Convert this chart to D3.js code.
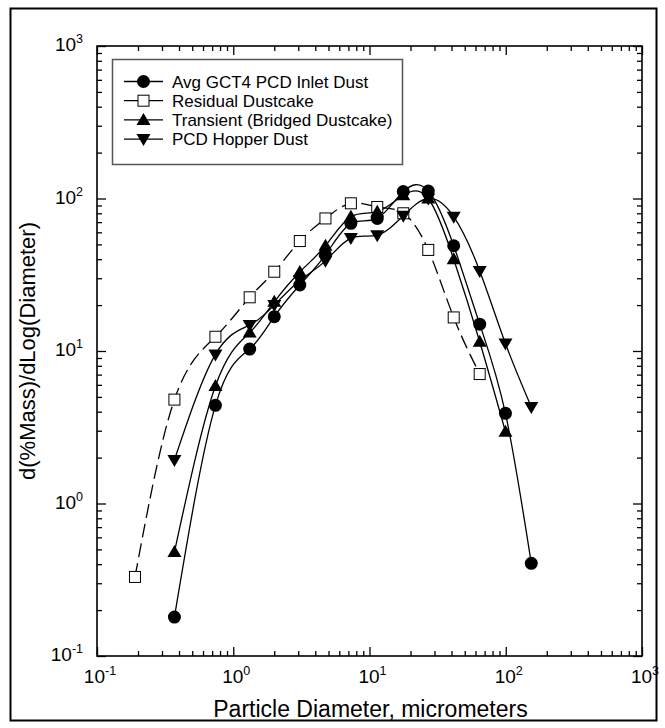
<!DOCTYPE html>
<html>
<head>
<meta charset="utf-8">
<script src="https://cdn.jsdelivr.net/npm/d3@7"></script>
<style>
  body { margin: 0; background: #fff; }
  text { font-family: "Liberation Sans", Arial, Helvetica, sans-serif; fill: #000; }
</style>
</head>
<body>
<svg id="chart" width="665" height="728"></svg>
<script>
// Particle diameters (micrometers) of the size bins
const diameters = [0.37, 0.74, 1.32, 2.0, 3.08, 4.75, 7.3, 11.4, 17.7, 27, 41.5, 64.4, 99.5, 154];
const residualDiameters = [0.19, 0.37, 0.74, 1.32, 2.0, 3.08, 4.75, 7.3, 11.4, 17.7, 27, 41.5, 64.4];

// d(%Mass)/dLog(Diameter) for each dust sample
const inletDust    = [0.18, 4.4, 10.3, 16.8, 27.1, 42.7, 68.7, 74, 111, 112, 49, 15.0, 3.9, 0.405];
const residualCake = [0.33, 4.8, 12.4, 22.5, 33.1, 52.6, 74, 93, 88, 80, 46, 16.6, 7.06];
const transient    = [0.48, 5.9, 13.2, 21, 33, 49, 76, 82, 105, 100, 40, 11.5, 2.96];
const hopperDust   = [1.93, 9.5, 14.8, 20, 29, 39, 55, 57.5, 77, 100, 76, 33.5, 11.2, 4.3];

const seriesNames = ["Avg GCT4 PCD Inlet Dust", "Residual Dustcake", "Transient (Bridged Dustcake)", "PCD Hopper Dust"];

// Axis decades (exponents of ten)
const xExponents = [-1, 0, 1, 2, 3];
const yExponents = [-1, 0, 1, 2, 3];

const series = [
  { name: seriesNames[0], xs: diameters, ys: inletDust, marker: "circle", dash: null },
  { name: seriesNames[1], xs: residualDiameters, ys: residualCake, marker: "square", dash: "14,6" },
  { name: seriesNames[2], xs: diameters.slice(0, transient.length), ys: transient, marker: "up", dash: null },
  { name: seriesNames[3], xs: diameters, ys: hopperDust, marker: "down", dash: null }
];

const svg = d3.select("#chart");
const W = 665, H = 728;
const plot = { left: 97, right: 642, top: 46, bottom: 656 };

const x = d3.scaleLog().domain([0.1, 1000]).range([plot.left, plot.right]);
const y = d3.scaleLog().domain([0.1, 1000]).range([plot.bottom, plot.top]);

// Outer border
svg.append("rect")
  .attr("x", 10.5).attr("y", 8.5)
  .attr("width", W - 19).attr("height", H - 16)
  .attr("fill", "none").attr("stroke", "#000").attr("stroke-width", 2);

// Major / minor tick values
const majors = xExponents.map(e => Math.pow(10, e));
const minors = [];
for (let e = -1; e < 3; e++) for (let k = 2; k <= 9; k++) minors.push(k * Math.pow(10, e));

function ticks(axisFn, scale, values, len, transform) {
  const g = svg.append("g").attr("transform", transform)
    .call(axisFn(scale).tickValues(values).tickSize(len).tickFormat(""));
  g.select(".domain").remove();
  g.selectAll(".tick line").attr("stroke", "#000").attr("stroke-width", 1.3);
  return g;
}
const MAJ = 9, MIN = 5;
ticks(d3.axisBottom, x, majors, -MAJ, `translate(0,${plot.bottom})`);
ticks(d3.axisBottom, x, minors, -MIN, `translate(0,${plot.bottom})`);
ticks(d3.axisTop, x, majors, -MAJ, `translate(0,${plot.top})`);
ticks(d3.axisTop, x, minors, -MIN, `translate(0,${plot.top})`);
ticks(d3.axisLeft, y, majors, -MAJ, `translate(${plot.left},0)`);
ticks(d3.axisLeft, y, minors, -MIN, `translate(${plot.left},0)`);
ticks(d3.axisRight, y, majors, -MAJ, `translate(${plot.right},0)`);
ticks(d3.axisRight, y, minors, -MIN, `translate(${plot.right},0)`);

// Plot box
svg.append("rect")
  .attr("x", plot.left).attr("y", plot.top)
  .attr("width", plot.right - plot.left).attr("height", plot.bottom - plot.top)
  .attr("fill", "none").attr("stroke", "#000").attr("stroke-width", 1.6);

// Power-of-ten labels
function powerLabel(px, py, exp, anchor) {
  const t = svg.append("text").attr("x", px).attr("y", py)
    .attr("text-anchor", anchor).style("font-size", "19px");
  t.append("tspan").text("10");
  t.append("tspan").attr("dy", -8).style("font-size", "12.5px").text(String(exp));
  return t;
}
xExponents.forEach(e => powerLabel(x(Math.pow(10, e)) + 3, plot.bottom + 27, e, "middle"));
yExponents.forEach(e => powerLabel(plot.left - 14, y(Math.pow(10, e)) + 5, e, "end"));

// Axis titles
svg.append("text")
  .attr("x", (plot.left + plot.right) / 2 + 1).attr("y", 717)
  .attr("text-anchor", "middle").style("font-size", "23px")
  .text("Particle Diameter, micrometers");
svg.append("text")
  .attr("transform", `translate(35,${(plot.top + plot.bottom) / 2}) rotate(-90)`)
  .attr("text-anchor", "middle").style("font-size", "22px")
  .text("d(%Mass)/dLog(Diameter)");

// Marker drawing
function drawMarker(g, kind, cx, cy) {
  if (kind === "circle") {
    g.append("circle").attr("cx", cx).attr("cy", cy).attr("r", 6.5).attr("fill", "#000");
  } else if (kind === "square") {
    g.append("rect").attr("x", cx - 5.5).attr("y", cy - 5.5).attr("width", 11).attr("height", 11)
      .attr("fill", "#fff").attr("stroke", "#000").attr("stroke-width", 1);
  } else if (kind === "up") {
    g.append("path").attr("d", `M${cx},${cy - 7}L${cx + 7},${cy + 5}L${cx - 7},${cy + 5}Z`).attr("fill", "#000");
  } else {
    g.append("path").attr("d", `M${cx},${cy + 7}L${cx + 7},${cy - 5}L${cx - 7},${cy - 5}Z`).attr("fill", "#000");
  }
}

const line = d3.line().x(d => x(d[0])).y(d => y(d[1])).curve(d3.curveNatural);
const plotG = svg.append("g");
series.forEach(s => {
  const pts = s.xs.map((v, i) => [v, s.ys[i]]);
  plotG.append("path").datum(pts).attr("d", line)
    .attr("fill", "none").attr("stroke", "#000").attr("stroke-width", 1.3)
    .attr("stroke-dasharray", s.dash);
});
series.forEach(s => {
  const g = plotG.append("g");
  s.xs.forEach((v, i) => drawMarker(g, s.marker, x(v), y(s.ys[i])));
});

// Legend
const leg = svg.append("g");
leg.append("rect").attr("x", 112.5).attr("y", 59.5).attr("width", 290).attr("height", 105)
  .attr("fill", "#fff").attr("stroke", "#555").attr("stroke-width", 1.5);
series.forEach((s, i) => {
  const ly = 81.5 + i * 19.2;
  leg.append("line").attr("x1", 124).attr("x2", 163).attr("y1", ly).attr("y2", ly)
    .attr("stroke", "#000").attr("stroke-width", 1.3);
  drawMarker(leg, s.marker, 143.5, ly);
  leg.append("text").attr("x", 172).attr("y", ly + 6).style("font-size", "17px").text(s.name);
});
</script>
</body>
</html>
